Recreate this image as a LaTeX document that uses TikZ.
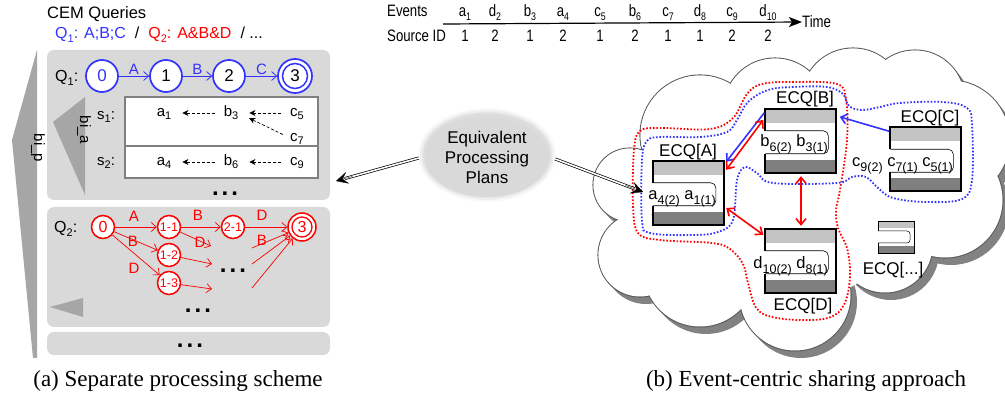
\documentclass[tikz,border=0pt]{standalone}
\usepackage{fontspec}
\setmainfont{Liberation Sans}
\newfontfamily\capfont{Liberation Serif}
\newfontfamily\narrowfont[FakeStretch=0.8]{Liberation Sans}
\usetikzlibrary{arrows.meta,shapes.geometric,calc}
\definecolor{qblue}{RGB}{51,51,255}
\definecolor{qred}{RGB}{255,0,0}
\definecolor{panelgray}{RGB}{217,217,217}
\definecolor{trigray}{RGB}{166,166,166}
\definecolor{lightband}{RGB}{195,195,195}
\definecolor{darkband}{RGB}{127,127,127}
\definecolor{shadowgray}{RGB}{130,130,130}
\definecolor{cloudline}{RGB}{90,90,90}
\newcommand\fsz[1]{\fontsize{#1}{#1}\selectfont}
\newcommand\lsub[1]{\raisebox{-0.2em}{\fontsize{11}{11}\selectfont #1}}
\newcommand\esub[1]{\raisebox{-0.3em}{\fontsize{12.5}{12.5}\selectfont #1}}
\newcommand\mydots{{\fsz{24}\bfseries .\hspace{3pt}.\hspace{3pt}.}}
\begin{document}
\begin{tikzpicture}[x=1pt,y=-1pt,
  lbl/.style={inner sep=0pt},
  panel/.style={fill=panelgray, rounded corners=7pt, draw=none, inner sep=0pt},
  qbnode/.style={circle, draw=qblue, line width=1.7pt, fill=white, minimum size=32pt, inner sep=0pt, font=\fsz{17}},
  qrnode/.style={circle, draw=qred, line width=1.5pt, fill=white, minimum size=23pt, inner sep=0pt, font=\fsz{12.5}, text=qred},
  bedge/.style={draw=qblue, line width=0.8pt, -{Straight Barb[length=5pt,width=9pt]}},
  redge/.style={draw=qred, line width=0.7pt, -{Straight Barb[length=5pt,width=9pt]}},
  rowtxt/.style={inner sep=0pt, text height=11pt, text depth=3pt, font=\fsz{15}, anchor=base},
  rlbl/.style={inner sep=0pt, font=\fsz{15}, text=qred},
  dasharrow/.style={draw=black, line width=0.7pt, dash pattern=on 3pt off 2pt, -{Stealth[length=6pt,width=6pt]}},
  ecqnode/.style={minimum width=71pt, minimum height=64pt, inner sep=0pt, draw=none},
  ecqtxt/.style={inner sep=0pt, font=\fsz{16.5}, anchor=base east},
  ecqlbl/.style={inner sep=0pt, font=\fsz{17}, anchor=base},
  bluearrow/.style={draw=qblue, line width=1.6pt, -{Straight Barb[length=6pt,width=10pt]}},
  redarrow/.style={draw=qred, line width=1.6pt, {Straight Barb[length=6pt,width=10pt]}-{Straight Barb[length=6pt,width=10pt]}},
  reddots/.style={draw=qred, line width=1.8pt, dash pattern=on 1.6pt off 1.8pt},
  bluedots/.style={draw=qblue, line width=1.8pt, dash pattern=on 1.6pt off 1.8pt},
  dblline/.style={draw=black, double=white, double distance=1.6pt, line width=0.7pt},
  dbltip/.style={draw=black, line width=0.3pt, -{Stealth[length=12pt,width=12pt,inset=5pt]}},
  tlabel/.style={inner sep=0pt, font=\narrowfont\fsz{16.5}, anchor=base},
  ecqshape/.pic={
    \fill[lightband] (0,0) rectangle (71,14);
    \fill[darkband] (0,51) rectangle (71,64);
    \draw[line width=0.6pt, rounded corners=5pt] (0,22) -- (63,22) -- (63,45) -- (0,45);
    \draw[line width=1.8pt, line join=miter] (0,22) -- (0,0) -- (71,0) -- (71,64) -- (0,64) -- (0,45);
  }
]
\useasboundingbox (0,0) rectangle (1005,398);

% ================= LEFT PART =================
\fill[trigray] (37,50) -- (12,140) -- (33,358) -- (37,358) -- cycle;
\node[lbl, rotate=-90, font=\fsz{15}] (bip) at (38,148) {bi\_p};

\node[lbl, anchor=base west, font=\fsz{16.5}] (cem) at (47,19) {CEM Queries};
\node[lbl, anchor=base west, font=\fsz{16}] (qlist) at (55,39)
  {\textcolor{qblue}{Q\lsub{1}: A;B;C}\hspace{9pt}/\hspace{9pt}\textcolor{qred}{Q\lsub{2}: A\&B\&D}\hspace{9pt}/ ...};

\node[panel, minimum width=283pt, minimum height=150pt] (q1panel) at (188.5,125) {};
\node[panel, minimum width=283pt, minimum height=120pt] (q2panel) at (188.5,267) {};
\node[panel, minimum width=283pt, minimum height=23pt] (morepanel) at (188.5,343.5) {};

% Q1 automaton
\node[lbl, anchor=base west, font=\fsz{16}] (q1lab) at (55,82) {Q\lsub{1}:};
\node[qbnode, text=qblue] (b0) at (102,76) {0};
\node[qbnode] (b1) at (166,76) {1};
\node[qbnode] (b2) at (229,76) {2};
\node[qbnode, minimum size=34pt] (b3) at (295,76) {3};
\draw[qblue, line width=1.5pt] (b3) circle[radius=12.5];
\draw[bedge] (b0) -- node[lbl, above=1pt, text=qblue, font=\fsz{15}] (la) {A} (b1);
\draw[bedge] (b1) -- node[lbl, above=1pt, text=qblue, font=\fsz{15}] (lb) {B} (b2);
\draw[bedge] (b2) -- node[lbl, above=1pt, text=qblue, font=\fsz{15}] (lc) {C} (b3);

% bi_a triangle
\fill[trigray] (85,97) -- (53,122) -- (85,195) -- cycle;
\node[lbl, rotate=-90, font=\fsz{15}] (bia) at (84,130) {bi\_a};

% sequence box
\node[draw=gray, line width=1.2pt, fill=white, minimum width=193pt, minimum height=81pt, inner sep=0pt] (sbox) at (221.5,137.5) {};
\draw[gray, line width=1.2pt] (sbox.west |- 0,146) -- (sbox.east |- 0,146);
\node[rowtxt, anchor=base west] (s1) at (97,120) {s\lsub{1}:};
\node[rowtxt, anchor=base west] (s2) at (97,166) {s\lsub{2}:};
\node[rowtxt] (ra1) at (164,117) {a\lsub{1}};
\node[rowtxt] (rb3) at (231,117) {b\lsub{3}};
\node[rowtxt] (rc5) at (297,117) {c\lsub{5}};
\node[rowtxt] (rc7) at (297,142) {c\lsub{7}};
\node[rowtxt] (ra4) at (164,166) {a\lsub{4}};
\node[rowtxt] (rb6) at (231,166) {b\lsub{6}};
\node[rowtxt] (rc9) at (297,166) {c\lsub{9}};
\draw[dasharrow, shorten <=9pt, shorten >=11pt] (rb3.west) -- (ra1.east);
\draw[dasharrow, shorten <=9pt, shorten >=11pt] (rc5.west) -- (rb3.east);
\draw[dasharrow, shorten <=8pt, shorten >=12pt] (rc7.west) -- (rb3.east);
\draw[dasharrow, shorten <=9pt, shorten >=11pt] (rb6.west) -- (ra4.east);
\draw[dasharrow, shorten <=9pt, shorten >=11pt] (rc9.west) -- (rb6.east);
\node[lbl, anchor=base] (dots1) at (225,196) {\mydots};

% Q2 automaton
\node[lbl, anchor=base west, font=\fsz{16}] (q2lab) at (54,233) {Q\lsub{2}:};
\node[qrnode, font=\fsz{16}] (r0) at (103,227) {0};
\node[qrnode] (r11) at (169,227) {1-1};
\node[qrnode] (r21) at (233,227) {2-1};
\node[qrnode, minimum size=28pt, font=\fsz{16}] (r3) at (302,227) {3};
\draw[qred, line width=1.3pt] (r3) circle[radius=10];
\node[qrnode] (r12) at (169,255) {1-2};
\node[qrnode] (r13) at (169,283) {1-3};
\coordinate (d11) at (211,246);
\coordinate (d12) at (212,264);
\coordinate (d13) at (212,289);
\coordinate (in1) at (252,248);
\coordinate (in2) at (252,264);
\coordinate (in3) at (252,288);
\draw[redge] (r0) -- (r11);
\draw[redge] (r0) -- (r12);
\draw[redge] (r0) -- (r13);
\draw[redge] (r11) -- (r21);
\draw[redge] (r21) -- (r3);
\draw[redge] (r11) -- (d11);
\draw[redge] (r12) -- (d12);
\draw[redge] (r13) -- (d13);
\draw[redge] (in1) -- (r3);
\draw[redge] (in2) -- (r3);
\draw[redge] (in3) -- (r3);
\node[rlbl] (l2a) at (134,216) {A};
\node[rlbl] (l2b) at (133,241) {B};
\node[rlbl] (l2d) at (134,268) {D};
\node[rlbl] (l2b2) at (198,215) {B};
\node[rlbl] (l2d2) at (262,215) {D};
\node[rlbl] (l2d3) at (200,242) {D};
\node[rlbl] (l2b3) at (262,240) {B};
\node[lbl, anchor=base] (dots2) at (233,273) {\mydots};
\fill[trigray] (50,307) -- (83,298) -- (83,317) -- cycle;
\node[lbl, anchor=base] (dots3) at (198,313) {\mydots};
\node[lbl, anchor=base] (dots4) at (190,348) {\mydots};

\node[lbl, anchor=base, font=\capfont\fsz{23}] (capa) at (178,386) {(a) Separate processing scheme};

% ================= RIGHT PART =================
% timeline
\node[tlabel, anchor=base west] (evlab) at (387,17) {Events};
\node[tlabel, anchor=base west] (srclab) at (387,42) {Source ID};
\coordinate (tstart) at (443,24);
\node[tlabel, anchor=west] (timelab) at (802,22) {Time};
\draw[line width=1.2pt, -{Stealth[length=13pt,width=10pt,inset=3pt]}] (tstart) -- (timelab.west);
\foreach \xx/\ev/\sid [count=\i] in {465/a\lsub{1}/1, 495/d\lsub{2}/2, 530/b\lsub{3}/1, 563/a\lsub{4}/2, 600/c\lsub{5}/1, 635/b\lsub{6}/2, 668/c\lsub{7}/1, 700/d\lsub{8}/1, 732/c\lsub{9}/2, 768/d\lsub{10}/2}{
  \node[tlabel] (ev\i) at (\xx,17) {\ev};
  \node[tlabel] (sid\i) at (\xx,42) {\sid};
}

% cloud
\foreach \cx/\cy/\r in {630/185/37, 700/135/60, 775/110/52, 853/100/52, 915/100/50, 950/140/60, 945/200/58, 885/245/48, 795/295/56, 700/270/57, 640/255/42}
  \fill[shadowgray] (\cx+6,\cy+7) circle[radius=\r];
\foreach \cx/\cy/\r in {630/185/37, 700/135/60, 775/110/52, 853/100/52, 915/100/50, 950/140/60, 945/200/58, 885/245/48, 795/295/56, 700/270/57, 640/255/42}
  \draw[cloudline, line width=1.1pt] (\cx,\cy) circle[radius=\r];
\foreach \cx/\cy/\r in {630/185/37, 700/135/60, 775/110/52, 853/100/52, 915/100/50, 950/140/60, 945/200/58, 885/245/48, 795/295/56, 700/270/57, 640/255/42, 800/190/110, 870/180/80, 720/200/70}
  \fill[white] (\cx,\cy) circle[radius=\r-0.5];

% dotted groups
\draw[reddots] plot[smooth cycle, tension=0.6] coordinates {(634,150) (640,131) (660,128) (710,129) (733,118) (747,94) (762,84) (793,82) (837,84) (846,100) (847,140) (840,190) (836,210) (838,228) (847,248) (850,274) (846,300) (835,315) (813,320) (777,318) (757,309) (748,283) (743,264) (730,249) (712,243) (660,240) (638,233) (633,205)};
\draw[bluedots] plot[smooth cycle, tension=0.6] coordinates {(642,160) (647,141) (660,137) (700,137) (727,132) (737,120) (748,102) (768,90) (793,87) (827,87) (843,94) (849,106) (862,110) (880,107) (900,103) (943,102) (967,108) (972,125) (972,180) (962,199) (927,202) (893,198) (878,188) (866,177) (852,177) (837,183) (773,183) (757,173) (745,167) (737,180) (733,220) (718,232) (693,235) (650,233) (642,220)};

% ECQ boxes
\node[ecqnode] (ecqA) at (688.5,193) {};
\node[ecqnode] (ecqB) at (801,141) {};
\node[ecqnode] (ecqC) at (926,159.5) {};
\node[ecqnode] (ecqD) at (801,261) {};
\pic at (ecqA.north west) {ecqshape};
\pic at (ecqB.north west) {ecqshape};
\pic at (ecqC.north west) {ecqshape};
\pic at (ecqD.north west) {ecqshape};
\node[ecqtxt] (tA) at (716,200) {a\esub{4(2)} a\esub{1(1)}};
\node[ecqtxt] (tB) at (828,147) {b\esub{6(2)} b\esub{3(1)}};
\node[ecqtxt] (tC) at (953,167) {c\esub{9(2)} c\esub{7(1)} c\esub{5(1)}};
\node[ecqtxt] (tD) at (828,269) {d\esub{10(2)} d\esub{8(1)}};
\node[ecqlbl] (lA) at (688,157) {ECQ[A]};
\node[ecqlbl] (lB) at (805,104) {ECQ[B]};
\node[ecqlbl] (lC) at (930,123) {ECQ[C]};
\node[ecqlbl] (lD) at (803,311) {ECQ[D]};

% small ECQ[...]
\node[minimum width=36pt, minimum height=33pt, inner sep=0pt, draw=none] (ecqX) at (896,237) {};
\fill[lightband] (878,221) rectangle (914,228);
\fill[darkband] (878,246) rectangle (914,253);
\draw[line width=0.5pt, rounded corners=3pt] (878,231) -- (910,231) -- (910,243) -- (878,243);
\draw[line width=0.9pt] (878,231) -- (878,221) -- (914,221) -- (914,253) -- (878,253) -- (878,243);
\node[ecqlbl] (lX) at (893,275) {ECQ[...]};

% arrows between ECQs
\draw[bluearrow] ($(ecqC.north west)+(-1,4)$) -- ($(ecqB.north east)+(3,8)$);
\draw[bluearrow] ($(ecqB.north west)+(-1,4)$) -- ($(ecqA.north east)+(2,1)$);
\draw[redarrow] ($(ecqA.north east)+(2,9)$) -- ($(ecqB.north west)+(-2,11)$);
\draw[redarrow] ($(ecqA.east)+(2,15)$) -- ($(ecqD.north west)+(-2,6)$);
\draw[redarrow] ($(ecqB.south)+(0,3)$) -- ($(ecqD.north)+(0,-3)$);

% equivalent processing plans
\foreach \k/\o in {7/0.15, 5/0.3, 3/0.5, 1.5/0.7}
  \fill[panelgray, opacity=\o] (487,155) ellipse [x radius=62+\k, y radius=40+\k];
\node[ellipse, fill=panelgray, minimum width=124pt, minimum height=80pt, inner sep=0pt, align=center, font=\fontsize{17}{20}\selectfont] (eqp) at (487,157) {Equivalent\\Processing\\Plans};
\coordinate (leftstart) at ($(eqp.west)+(-6,1)$);
\coordinate (rightstart) at ($(eqp.east)+(6,2)$);
\coordinate (lefttip) at (336,181);
\coordinate (righttip) at (643,192);
\draw[dblline, shorten >=9pt] (leftstart) -- (lefttip);
\draw[dbltip] ($(leftstart)!0.8!(lefttip)$) -- (lefttip);
\draw[dblline, shorten >=9pt] (rightstart) -- (righttip);
\draw[dbltip] ($(rightstart)!0.8!(righttip)$) -- (righttip);

\node[lbl, anchor=base, font=\capfont\fsz{23}] (capb) at (806,386) {(b) Event-centric sharing approach};
\end{tikzpicture}
\end{document}
